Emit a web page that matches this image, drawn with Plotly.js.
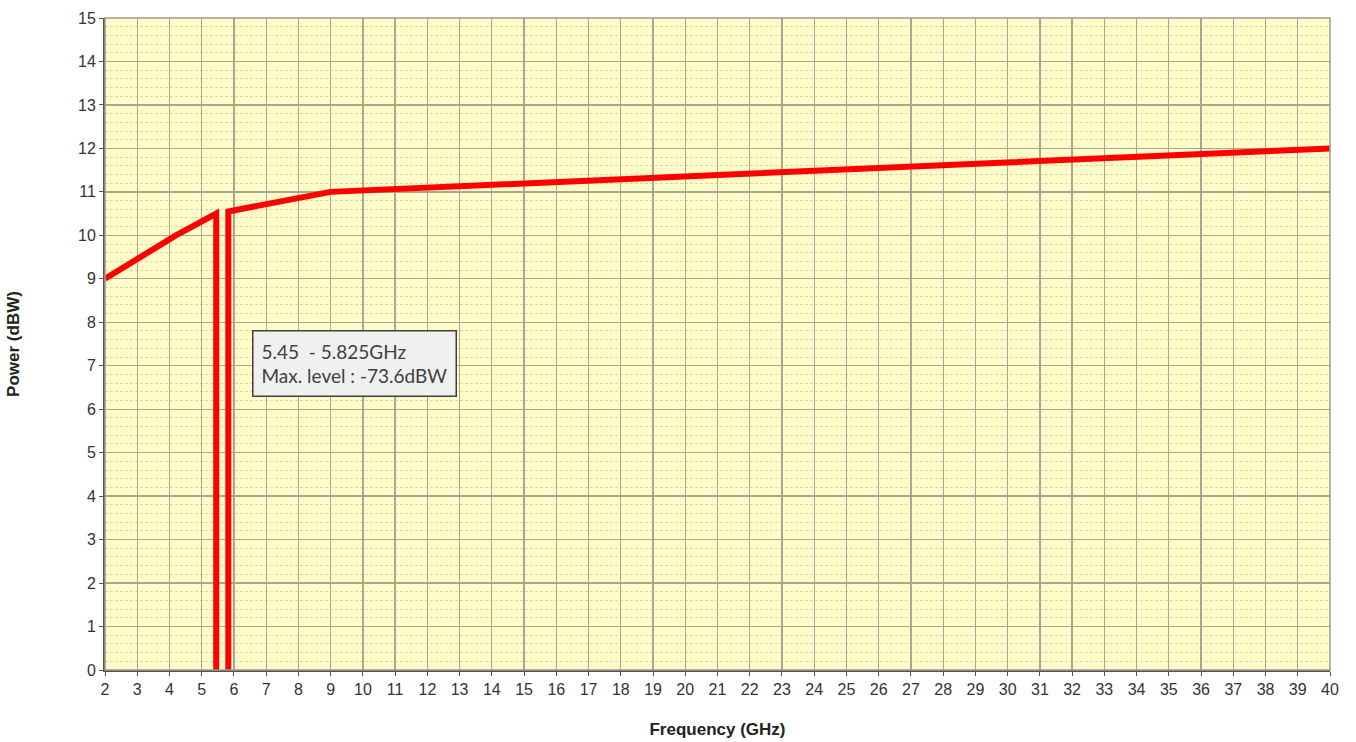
<!DOCTYPE html>
<html>
<head>
<meta charset="utf-8">
<script src="https://cdn.plot.ly/plotly-3.0.1.min.js"></script>
<style>html,body{margin:0;padding:0;background:#fff;}#chart{width:1356px;height:742px;}</style>
</head>
<body>
<div id="chart"></div>
<script>
// Frequency (GHz) and Power (dBW) of the emission mask
var freqGHz = [2, 4.2, 5.45, 5.45, 5.825, 5.825, 9, 40];
var powerDBW = [9, 10, 10.5, -73.6, -73.6, 10.55, 11, 12];
var xTickVals = [2,3,4,5,6,7,8,9,10,11,12,13,14,15,16,17,18,19,20,21,22,23,24,25,26,27,28,29,30,31,32,33,34,35,36,37,38,39,40];
var yTickVals = [0,1,2,3,4,5,6,7,8,9,10,11,12,13,14,15];
var noteLines = ["5.45  - 5.825GHz", "Max. level : -73.6dBW"];

var trace = {
  x: freqGHz, y: powerDBW, type: 'scatter', mode: 'lines',
  line: {color: '#ff0000', width: 6}, hoverinfo: 'x+y', showlegend: false
};

var tickFont = {family: 'Liberation Sans, Arial, sans-serif', size: 16, color: '#333333'};
var titleFont = {family: 'Liberation Sans, Arial, sans-serif', size: 17, color: '#222222'};
var layout = {
  width: 1356, height: 742,
  margin: {l: 105, r: 26, t: 18, b: 72},
  paper_bgcolor: '#ffffff',
  plot_bgcolor: '#fffcc8',
  xaxis: {
    range: [2, 40], tickvals: xTickVals, ticktext: xTickVals.map(String),
    showgrid: true, gridcolor: '#a9a793', gridwidth: 1.3,
    zeroline: false, showline: true, linecolor: '#555555', linewidth: 2,
    ticks: 'outside', ticklen: 4, tickcolor: '#555555', tickfont: tickFont,
    title: {text: '<b>Frequency (GHz)</b>', font: titleFont, standoff: 26}
  },
  yaxis: {
    range: [0, 15], tickvals: yTickVals, ticktext: yTickVals.map(String),
    showgrid: true, gridcolor: '#a9a793', gridwidth: 1.3,
    minor: {dtick: 0.2, showgrid: true, gridcolor: '#d9d5ad', griddash: '3px,2px', gridwidth: 1},
    zeroline: false, showline: true, linecolor: '#555555', linewidth: 2,
    ticks: 'outside', ticklen: 4, tickcolor: '#555555', tickfont: tickFont,
    title: {text: '<b>Power (dBW)</b>', font: titleFont, standoff: 54}
  },
  shapes: [{
    type: 'rect', xref: 'paper', yref: 'paper', x0: 0, x1: 1, y0: 0, y1: 1,
    line: {color: '#9a9a8a', width: 1.5}, layer: 'above'
  }],
  annotations: [{
    xref: 'x', yref: 'y', x: 6.56, y: 7.06, xanchor: 'left', yanchor: 'middle',
    text: noteLines.join('<br>'), align: 'left', showarrow: false,
    font: {family: 'Lato, Open Sans, sans-serif', size: 19, color: '#404040'},
    bgcolor: '#f0f0f0', bordercolor: '#404040', borderwidth: 1.5, borderpad: 8
  }]
};

Plotly.newPlot('chart', [trace], layout, {displayModeBar: false, staticPlot: true});
</script>
</body>
</html>
